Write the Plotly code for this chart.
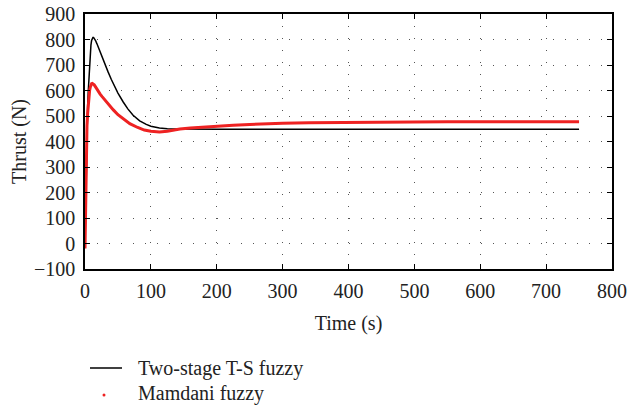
import plotly.graph_objects as go

# Two-stage T-S fuzzy
t_ts = [0, 1, 2, 3, 4, 5, 6, 7, 8, 9, 10, 11, 12, 13, 14, 16, 18, 20, 23, 26, 30, 35, 40,
        45, 50, 58, 65, 73, 83, 93, 100, 113, 125, 144, 170, 200, 300, 400, 500, 600, 750]
thrust_ts = [0, 180, 350, 460, 540, 600, 660, 710, 750, 778, 796, 805, 808, 808, 805, 796, 784,
             770, 750, 730, 705, 673, 643, 615, 590, 555, 528, 503, 481, 467, 460, 453, 450,
             449, 448, 448, 448, 448, 448, 448, 448]

# Mamdani fuzzy
t_md = [0, 0.5, 1, 1.5, 2, 3, 4, 5, 6, 7, 8, 9, 10, 11, 12, 14, 16, 18, 20, 23, 26, 30, 35,
        43, 50, 58, 68, 80, 90, 100, 113, 125, 144, 160, 180, 200, 225, 250, 275, 300, 340,
        381, 450, 550, 650, 750]
thrust_md = [-20, 80, 200, 300, 380, 460, 510, 550, 580, 600, 613, 622, 627, 628, 627, 622, 614,
             605, 597, 586, 576, 563, 548, 524, 505, 488, 470, 455, 445, 440, 437, 440, 449,
             453, 457, 460, 464, 467, 470, 472, 474, 475, 476, 477, 477, 477]

x_ticks = [0, 100, 200, 300, 400, 500, 600, 700, 800]
y_ticks = [-100, 0, 100, 200, 300, 400, 500, 600, 700, 800, 900]
y_labels = ["\u2212100", "0", "100", "200", "300", "400", "500", "600", "700", "800", "900"]

series_names = ["Two-stage T-S fuzzy", "Mamdani fuzzy"]

FONT = "Liberation Serif"
FS = 20
TXT = "#222222"
RED = "#ee2222"

fig = go.Figure()
fig.add_trace(go.Scatter(x=t_ts, y=thrust_ts, mode="lines", line=dict(color="black", width=1.5),
                         name=series_names[0], showlegend=False))
fig.add_trace(go.Scatter(x=t_md, y=thrust_md, mode="lines", line=dict(color=RED, width=3),
                         name=series_names[1], showlegend=False))

axis_common = dict(
    showline=True, linecolor="black", linewidth=1.5, mirror="allticks",
    ticks="inside", ticklen=5, tickcolor="black", tickwidth=1,
    showgrid=True, gridcolor="#555555", gridwidth=1, griddash="1px,11px",
    zeroline=False, automargin=False, ticklabeloverflow="allow",
    tickfont=dict(family=FONT, size=FS, color=TXT),
)

fig.update_xaxes(range=[0, 800], tickvals=x_ticks, ticktext=[str(v) for v in x_ticks],
                 ticklabelstandoff=3,
                 title=dict(text="Time (s)", font=dict(family=FONT, size=FS, color=TXT), standoff=15),
                 **axis_common)
fig.update_yaxes(range=[-100, 900], tickvals=y_ticks, ticktext=y_labels,
                 ticklabelstandoff=4,
                 title=dict(text="Thrust (N)", font=dict(family=FONT, size=FS, color=TXT), standoff=2),
                 **axis_common)

# Legend (drawn in the bottom margin, paper coordinates)
PL, PR, PT, PB = 85, 15, 14, 140
W, H = 627, 409
pw, ph = W - PL - PR, H - PT - PB

def px_x(p):
    return (p - PL) / pw

def px_y(p):
    return (H - PB - p) / ph

fig.add_shape(type="line", xref="paper", yref="paper",
              x0=px_x(90), x1=px_x(122), y0=px_y(368), y1=px_y(368),
              line=dict(color="black", width=1.5))
fig.add_shape(type="circle", xref="paper", yref="paper",
              x0=px_x(102.5), x1=px_x(105.5), y0=px_y(396.5), y1=px_y(393.5),
              line=dict(color=RED, width=0), fillcolor=RED)
for name, yy in zip(series_names, [368, 393]):
    fig.add_annotation(text=name, xref="paper", yref="paper", x=px_x(136), y=px_y(yy),
                       xanchor="left", yanchor="middle", showarrow=False,
                       font=dict(family=FONT, size=FS, color=TXT))

fig.update_layout(
    width=W, height=H,
    margin=dict(l=PL, r=PR, t=PT, b=PB),
    plot_bgcolor="white", paper_bgcolor="white",
    font=dict(family=FONT, size=FS, color=TXT),
    showlegend=False,
)

fig.write_html("out.html", config={"displayModeBar": False},
               post_script="document.body.style.margin='0';document.body.style.overflow='hidden';")
